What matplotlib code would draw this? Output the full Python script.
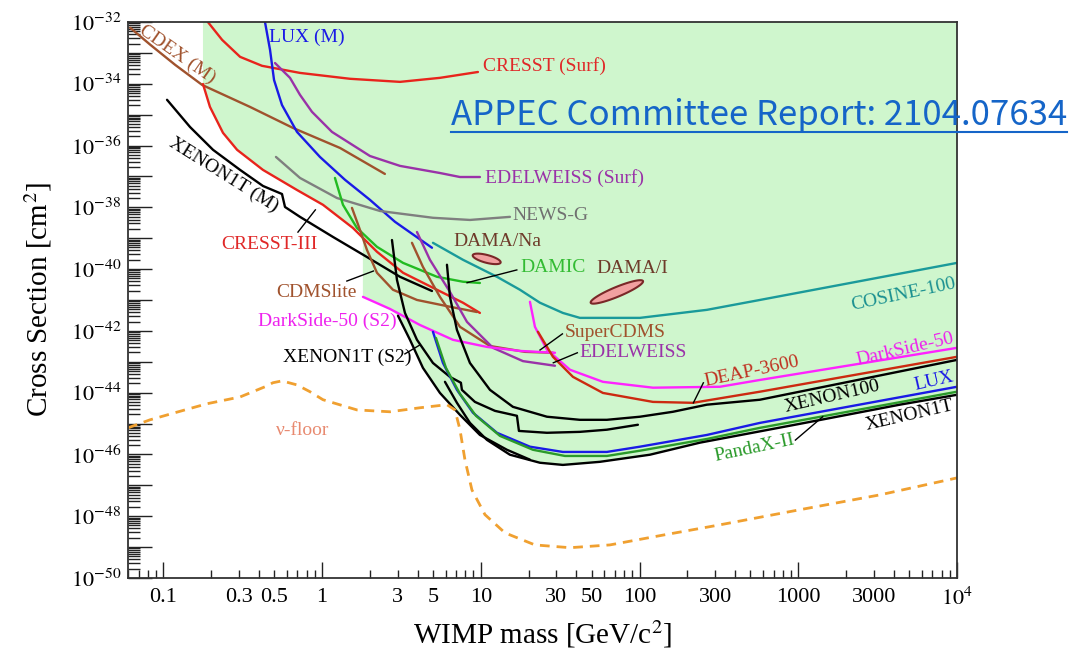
import numpy as np
import matplotlib
matplotlib.use('Agg')
import matplotlib.pyplot as plt
from matplotlib.lines import Line2D
from matplotlib.ticker import FixedLocator, FuncFormatter, NullFormatter

plt.rcParams['font.family'] = ['Liberation Serif', 'DejaVu Serif']
plt.rcParams['mathtext.fontset'] = 'stix'

# WIMP mass [GeV/c^2] and log10 of the cross section [cm^2]
cdex_m = [0.062, 0.083, 0.119, 0.176, 0.352, 0.656, 1.30, 2.49]
cdex_lg = [-32.19, -32.74, -33.39, -34.04, -34.75, -35.43, -36.08, -36.92]

cresst_surf_m = [0.183, 0.191, 0.235, 0.305, 0.419, 0.727, 1.50, 3.10, 5.53, 9.6]
cresst_surf_lg = [-31.8, -32.0, -32.58, -33.13, -33.42, -33.65, -33.84, -33.94, -33.81, -33.62]

lux_m_m = [0.431, 0.4375, 0.471, 0.499, 0.560, 0.696, 0.971, 1.396, 2.006, 2.883, 4.93]
lux_m_lg = [-31.8, -32.0, -32.91, -33.88, -34.69, -35.56, -36.37, -37.11, -37.76, -38.47, -39.31]

edel_surf_m = [0.506, 0.629, 0.727, 0.865, 1.156, 2.006, 3.10, 5.53, 7.40, 9.88]
edel_surf_lg = [-33.33, -33.81, -34.36, -34.91, -35.56, -36.34, -36.66, -36.89, -37.02, -37.02]

x1t_m_m = [0.1057, 0.1475, 0.206, 0.305, 0.425, 0.560, 0.585, 0.727, 1.173, 1.92, 3.10, 4.93]
x1t_m_lg = [-34.52, -35.40, -36.14, -36.79, -37.31, -37.57, -37.99, -38.31, -38.96, -39.61, -40.25, -40.71]

cresst3_m = [0.178, 0.197, 0.238, 0.292, 0.425, 0.696, 1.015, 1.567, 2.22, 3.24, 5.30, 7.73, 9.88]
cresst3_lg = [-34.01, -34.75, -35.59, -36.14, -36.79, -37.44, -37.92, -38.67, -39.44, -40.12, -40.67, -41.09, -41.42]

newsg_m = [0.513, 0.727, 1.243, 2.319, 5.00, 8.55, 15.27]
newsg_lg = [-36.37, -37.05, -37.70, -38.12, -38.34, -38.41, -38.31]

damic_m = [1.207, 1.356, 1.661, 2.22, 3.24, 5.30, 7.73, 9.88]
damic_lg = [-37.05, -37.92, -38.67, -39.28, -39.80, -40.25, -40.41, -40.45]

cdmslite_m = [1.545, 1.735, 1.92, 2.22, 2.80, 3.965, 6.398, 9.46]
cdmslite_lg = [-38.02, -38.73, -39.38, -40.12, -40.67, -41.00, -41.22, -41.39]

supercdms_m = [3.688, 4.325, 5.534, 7.40, 11.43, 18.98, 28.5]
supercdms_lg = [-39.15, -39.93, -40.90, -41.87, -42.49, -42.68, -42.71]

edel_m = [3.965, 4.786, 6.398, 8.19, 11.94, 18.44, 29.34]
edel_lg = [-38.80, -39.70, -40.74, -41.71, -42.55, -42.98, -43.13]

ds50_s2_m = [1.812, 2.681, 4.141, 6.68, 10.94, 17.66, 29.34]
ds50_s2_lg = [-40.90, -41.29, -41.81, -42.29, -42.52, -42.65, -42.71]

x1t_s2_m = [3.011, 3.583, 4.325, 5.534, 7.40, 9.88, 14.62, 20.41]
x1t_s2_lg = [-41.51, -42.29, -43.20, -44.01, -44.72, -45.37, -45.85, -46.17]

x1t_step_m = [2.76, 2.967, 3.332, 3.965, 5.0, 6.398, 7.50, 7.61, 9.19, 12.29, 16.90, 17.4, 26.12, 42.1, 62.3, 97.7]
x1t_step_lg = [-39.06, -40.35, -41.42, -42.29, -43.04, -43.49, -43.68, -43.91, -44.30, -44.59, -44.75, -45.24, -45.30, -45.27, -45.20, -45.04]

x1t_m = [5.951, 7.08, 8.55, 10.94, 15.27, 23.6, 32.9, 56.3, 116.3, 240.1, 1024, 4364, 1e4]
x1t_lg = [-43.65, -44.33, -44.98, -45.53, -46.01, -46.27, -46.34, -46.24, -46.01, -45.62, -45.01, -44.39, -44.07]

lux_m = [5.0, 5.781, 7.08, 8.93, 12.65, 20.41, 32.9, 62.3, 100.6, 265.7, 573, 1e4]
lux_lg = [-42.03, -43.04, -43.91, -44.65, -45.30, -45.75, -45.92, -45.92, -45.75, -45.37, -44.98, -43.81]

pandax_m = [5.224, 6.04, 7.40, 9.33, 13.21, 21.32, 33.9, 62.3, 100.6, 265.7, 573, 1e4]
pandax_lg = [-42.23, -43.20, -44.04, -44.75, -45.40, -45.85, -46.05, -46.05, -45.88, -45.50, -45.14, -43.97]

x100_m = [6.126, 6.398, 7.08, 8.55, 11.43, 15.95, 26.12, 42.1, 62.3, 100.6, 162.3, 265.7, 573, 1e4]
x100_lg = [-39.86, -40.90, -41.97, -43.04, -43.91, -44.46, -44.78, -44.88, -44.88, -44.78, -44.62, -44.39, -44.23, -42.94]

deap_m = [22.92, 28.5, 38.1, 58.8, 121.5, 216.9, 573, 1e4]
deap_lg = [-42.03, -42.84, -43.49, -44.01, -44.30, -44.33, -43.97, -42.84]

ds50_m = [20.41, 21.95, 26.12, 36.5, 58.8, 121.5, 320.8, 573, 1e4]
ds50_lg = [-41.06, -41.87, -42.61, -43.26, -43.65, -43.84, -43.81, -43.59, -42.55]

cosine_m = [5.0, 7.73, 12.65, 17.66, 23.6, 32.9, 42.1, 62.3, 100.6, 265.7, 573, 1e4]
cosine_lg = [-39.15, -39.70, -40.25, -40.67, -41.09, -41.42, -41.58, -41.58, -41.58, -41.32, -41.00, -39.80]

nufloor_m = [0.060, 0.0826, 0.1186, 0.1887, 0.305, 0.4375, 0.491, 0.560, 0.696, 0.840, 1.015, 1.661, 2.681,
             4.141, 6.126, 6.88, 7.40, 7.95, 8.80, 10.63, 14.21, 21.95, 36.5, 65.1, 134.5, 320.8, 1024,
             3265, 1e4]
nufloor_lg = [-45.14, -44.88, -44.65, -44.36, -44.14, -43.81, -43.68, -43.62, -43.75, -43.97, -44.23, -44.56,
              -44.62, -44.49, -44.39, -44.56, -45.20, -46.17, -47.15, -47.95, -48.54, -48.93, -49.02, -48.93,
              -48.63, -48.28, -47.79, -47.31, -46.76]

# excluded region (green shading)
excl_m = [0.178, 0.178, 0.197, 0.238, 0.292, 0.425, 0.696, 1.015, 1.567, 1.81, 1.81, 2.68, 3.01, 3.58,
          4.33, 5.53, 7.40, 9.88, 14.6, 23.6, 32.9, 56.3, 116.3, 240.1, 1024, 4364, 1e4, 1e4]
excl_lg = [-32.0, -34.01, -34.75, -35.59, -36.14, -36.79, -37.44, -37.92, -38.67, -38.85, -40.90, -41.29,
           -41.51, -42.29, -43.20, -44.01, -44.72, -45.37, -45.85, -46.27, -46.34, -46.24, -46.01, -45.62,
           -45.01, -44.39, -44.07, -32.0]

# DAMA regions: centre mass, centre log10 sigma, half width (decades of mass),
# half thickness (decades of sigma), slope of the long axis
dama_na = [10.9, -39.67, 0.088, 0.13, -1.25]
dama_i = [72.0, -40.74, 0.165, 0.17, 2.06]

x_major = [0.1, 1, 10, 100, 1000, 1e4]
x_major_lab = ['0.1', '1', '10', '100', '1000', '$10^4$']
x_minor_lab_at = [0.3, 0.5, 3, 5, 30, 50, 300, 3000]
x_minor_lab = ['0.3', '0.5', '3', '5', '30', '50', '300', '3000']
y_exp = list(range(-50, -31))


fig = plt.figure(figsize=(10.71, 6.55), dpi=100)
ax = fig.add_axes([0.1195, 0.1176, 0.7741, 0.8489])
ax.set_xscale('log')
ax.set_yscale('log')
ax.set_xlim(0.06, 1e4)
ax.set_ylim(1e-50, 1e-32)

ax.fill(excl_m, np.power(10.0, excl_lg), color='#cff6cd', lw=0, zorder=0)


def curve(m, lg, color, lw=1.7, **kw):
    ax.plot(m, np.power(10.0, lg), color=color, lw=lw, solid_capstyle='round',
            solid_joinstyle='round', **kw)


def blob(p):
    t = np.linspace(0, 2 * np.pi, 100)
    lm = np.log10(p[0]) + p[2] * np.cos(t)
    ls = p[1] + p[4] * p[2] * np.cos(t) + p[3] * np.sin(t)
    ax.fill(10 ** lm, 10 ** ls, facecolor='#f2a0a0', edgecolor='#7a2828', lw=1.5, zorder=3)


curve(cdex_m, cdex_lg, '#a0522d')
curve(cresst_surf_m, cresst_surf_lg, '#e8241c')
curve(lux_m_m, lux_m_lg, '#1a1ae6')
curve(edel_surf_m, edel_surf_lg, '#9a32a8')
curve(x1t_m_m, x1t_m_lg, 'black')
curve(cresst3_m, cresst3_lg, '#e8241c')
curve(newsg_m, newsg_lg, '#7f7f7f')
curve(damic_m, damic_lg, '#22bb22')
curve(cdmslite_m, cdmslite_lg, '#a0522d')
curve(supercdms_m, supercdms_lg, '#a0522d')
curve(edel_m, edel_lg, '#9a32a8')
curve(ds50_s2_m, ds50_s2_lg, '#ff22ff')
curve(cosine_m, cosine_lg, '#1a9a9a')
curve(ds50_m, ds50_lg, '#ff22ff')
curve(deap_m, deap_lg, '#cc2a10')
curve(x100_m, x100_lg, 'black')
curve(x1t_step_m, x1t_step_lg, 'black')
curve(lux_m, lux_lg, '#1a1ae6')
curve(pandax_m, pandax_lg, '#2a9a2a')
curve(x1t_s2_m, x1t_s2_lg, 'black')
curve(x1t_m, x1t_lg, 'black')
ax.plot(nufloor_m, np.power(10.0, nufloor_lg), color='#f0a030', lw=2.0, dashes=(3.5, 2.5))
blob(dama_na)
blob(dama_i)

# labels (axes fraction)
fs = 14
def lab(x, y, s, c, rot=0, ha='center'):
    ax.text(x, y, s, color=c, fontsize=fs, rotation=rot, rotation_mode='anchor',
            ha=ha, va='center', transform=ax.transAxes, zorder=5)

def ptr(x0, y0, x1, y1):
    ax.plot([x0, x1], [y0, y1], color='black', lw=1.0, transform=ax.transAxes, zorder=4)

lab(0.216, 0.973, 'LUX (M)', '#1a1ae6')
lab(0.060, 0.941, 'CDEX (M)', '#a0522d', rot=-35)
lab(0.428, 0.921, 'CRESST (Surf)', '#e02828', ha='left')
lab(0.431, 0.719, 'EDELWEISS (Surf)', '#9a32a8', ha='left')
lab(0.116, 0.725, 'XENON1T (M)', 'black', rot=-32)
lab(0.464, 0.651, 'NEWS-G', '#707070', ha='left')
lab(0.171, 0.599, 'CRESST-III', '#e02828')
lab(0.445, 0.606, 'DAMA/Na', '#6e3b2a')
lab(0.473, 0.558, 'DAMIC', '#33bb33', ha='left')
lab(0.608, 0.556, 'DAMA/I', '#6e3b2a')
lab(0.227, 0.514, 'CDMSlite', '#a0522d')
lab(0.935, 0.510, 'COSINE-100', '#1a9090', rot=12)
lab(0.157, 0.462, 'DarkSide-50 (S2)', '#ee22ee', ha='left')
lab(0.527, 0.441, 'SuperCDMS', '#a0522d', ha='left')
lab(0.545, 0.406, 'EDELWEISS', '#9a32a8', ha='left')
lab(0.187, 0.396, 'XENON1T (S2)', 'black', ha='left')
lab(0.753, 0.372, 'DEAP-3600', '#c03020', rot=12)
lab(0.937, 0.412, 'DarkSide-50', '#ee22ee', rot=13)
lab(0.849, 0.327, 'XENON100', 'black', rot=13)
lab(0.972, 0.354, 'LUX', '#1a1ae6', rot=13)
lab(0.943, 0.292, 'XENON1T', 'black', rot=13)
lab(0.756, 0.234, 'PandaX-II', '#2a9a2a', rot=12)
lab(0.211, 0.266, '\u03bd-floor', '#e88a70')

ptr(0.205, 0.622, 0.226, 0.662)
ptr(0.264, 0.534, 0.296, 0.552)
ptr(0.469, 0.554, 0.409, 0.531)
ptr(0.524, 0.439, 0.497, 0.410)
ptr(0.542, 0.405, 0.513, 0.387)
ptr(0.334, 0.403, 0.352, 0.419)
ptr(0.694, 0.351, 0.682, 0.315)
ptr(0.805, 0.248, 0.838, 0.290)

# ticks
ax.xaxis.set_major_locator(FixedLocator(x_major))
ax.set_xticklabels(x_major_lab)
x_minor = [k * 10.0 ** d for d in range(-2, 4) for k in range(2, 10) if k * 10.0 ** d >= 0.06]
ax.xaxis.set_minor_locator(FixedLocator(x_minor))

def minor_fmt(v, pos):
    for t, s in zip(x_minor_lab_at, x_minor_lab):
        if abs(v / t - 1) < 1e-6:
            return s
    return ''

ax.xaxis.set_minor_formatter(FuncFormatter(minor_fmt))

ax.yaxis.set_major_locator(FixedLocator([10.0 ** e for e in y_exp]))
ax.set_yticklabels(['$10^{%d}$' % e if e % 2 == 0 else '' for e in y_exp])
ax.yaxis.set_minor_locator(FixedLocator([k * 10.0 ** e for e in y_exp[:-1] for k in range(2, 10)]))
ax.yaxis.set_minor_formatter(NullFormatter())

ax.tick_params(axis='both', which='both', direction='in', top=False, right=False,
               labelsize=16, width=1.0, color='#222222')
ax.tick_params(axis='x', which='major', length=11.5, pad=7)
ax.tick_params(axis='x', which='minor', length=6, pad=7)
ax.tick_params(axis='y', which='major', length=17, pad=5)
ax.tick_params(axis='y', which='minor', length=8.5)
for sp in ax.spines.values():
    sp.set_color('#333333')
    sp.set_linewidth(1.3)

ax.set_xlabel('WIMP mass [GeV/c$^2$]', fontsize=21, labelpad=6)
ax.set_ylabel('Cross Section [cm$^2$]', fontsize=21, labelpad=12)

txt = fig.text(451 / 1071, 1 - 125 / 655, 'APPEC Committee Report: 2104.07634', fontsize=25,
               color='#1565c8', family=['Noto Sans CJK SC', 'DejaVu Sans'], weight='light',
               va='baseline', ha='left')
fig.canvas.draw()
bb = txt.get_window_extent().transformed(fig.transFigure.inverted())
fig.add_artist(Line2D([bb.x0, bb.x1], [1 - 132 / 655] * 2, color='#1565c8', lw=1.5,
                      transform=fig.transFigure))

fig.savefig('out.png', dpi=100)
